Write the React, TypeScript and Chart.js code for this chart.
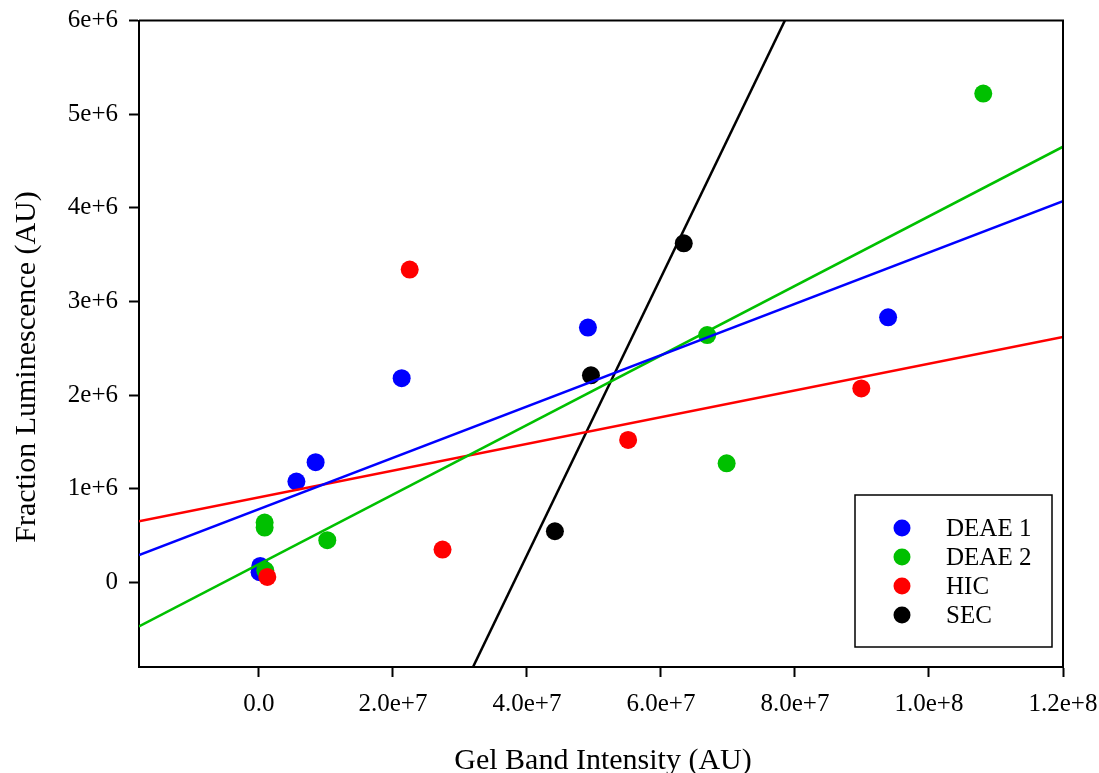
import React, { useEffect, useRef } from "react";
import { Chart, registerables } from "chart.js";

Chart.register(...registerables);

const FONT = "'Liberation Serif', 'Times New Roman', serif";

// Series readings (x: gel band intensity, y: fraction luminescence)
const deae1X = [0.2e6, 0.1e6, 5.59e6, 8.46e6, 21.3e6, 49.1e6, 93.9e6];
const deae1Y = [0.174e6, 0.107e6, 1.076e6, 1.282e6, 2.18e6, 2.72e6, 2.83e6];

const deae2X = [0.85e6, 0.85e6, 0.94e6, 10.2e6, 66.9e6, 69.8e6, 108.1e6];
const deae2Y = [0.638e6, 0.584e6, 0.128e6, 0.449e6, 2.64e6, 1.27e6, 5.22e6];

const hicX = [1.25e6, 22.5e6, 27.4e6, 55.1e6, 89.9e6];
const hicY = [0.057e6, 3.34e6, 0.349e6, 1.52e6, 2.07e6];

const secX = [44.17e6, 49.55e6, 63.4e6];
const secY = [0.545e6, 2.21e6, 3.62e6];

const seriesNames = ["DEAE 1", "DEAE 2", "HIC", "SEC"];
const seriesColors = ["#0000ff", "#00c000", "#ff0000", "#000000"];

// Axis ranges and tick labels
const xRange = [-1.79e7, 1.2e8];
const yRange = [-0.905e6, 6e6];
const xTickValues = [0, 2e7, 4e7, 6e7, 8e7, 1e8, 1.2e8];
const xTickLabels = ["0.0", "2.0e+7", "4.0e+7", "6.0e+7", "8.0e+7", "1.0e+8", "1.2e+8"];
const yTickValues = [0, 1e6, 2e6, 3e6, 4e6, 5e6, 6e6];
const yTickLabels = ["0", "1e+6", "2e+6", "3e+6", "4e+6", "5e+6", "6e+6"];

const xTitle = "Gel Band Intensity (AU)";
const yTitle = "Fraction Luminescence (AU)";

// Ordinary least-squares fit of y on x
function fit(xs: number[], ys: number[]) {
  const n = xs.length;
  const mx = xs.reduce((a, b) => a + b, 0) / n;
  const my = ys.reduce((a, b) => a + b, 0) / n;
  let sxy = 0;
  let sxx = 0;
  for (let i = 0; i < n; i++) {
    sxy += (xs[i] - mx) * (ys[i] - my);
    sxx += (xs[i] - mx) * (xs[i] - mx);
  }
  const slope = sxy / sxx;
  return { slope, intercept: my - slope * mx };
}

const framePlugin = {
  id: "frame",
  afterDatasetsDraw(chart: any) {
    const { ctx, chartArea } = chart;
    ctx.save();
    ctx.strokeStyle = "#000";
    ctx.lineWidth = 2;
    ctx.beginPath();
    ctx.moveTo(chartArea.left, chartArea.top);
    ctx.lineTo(chartArea.right, chartArea.top);
    ctx.lineTo(chartArea.right, chartArea.bottom);
    ctx.stroke();
    ctx.restore();
  },
};

const titlesPlugin = {
  id: "axisTitles",
  afterDraw(chart: any) {
    const { ctx } = chart;
    ctx.save();
    ctx.fillStyle = "#000";
    ctx.font = `30px ${FONT}`;
    ctx.textAlign = "center";
    ctx.textBaseline = "alphabetic";
    ctx.fillText(xTitle, 603, 769);
    ctx.translate(35, 367);
    ctx.rotate(-Math.PI / 2);
    ctx.fillText(yTitle, 0, 0);
    ctx.restore();
  },
};

const legendPlugin = {
  id: "boxLegend",
  afterDraw(chart: any) {
    const { ctx } = chart;
    const left = 855;
    const top = 495;
    const width = 197;
    const height = 152;
    ctx.save();
    ctx.fillStyle = "#fff";
    ctx.fillRect(left, top, width, height);
    ctx.strokeStyle = "#000";
    ctx.lineWidth = 1.5;
    ctx.strokeRect(left, top, width, height);
    ctx.font = `25px ${FONT}`;
    ctx.textBaseline = "middle";
    ctx.textAlign = "left";
    seriesNames.forEach((name, i) => {
      const y = top + 33 + i * 29;
      ctx.fillStyle = seriesColors[i];
      ctx.beginPath();
      ctx.arc(left + 47, y, 8.5, 0, Math.PI * 2);
      ctx.fill();
      ctx.fillStyle = "#000";
      ctx.fillText(name, left + 91, y + 1);
    });
    ctx.restore();
  },
};

export default function App() {
  const canvasRef = useRef<HTMLCanvasElement | null>(null);

  useEffect(() => {
    const canvas = canvasRef.current;
    if (!canvas) return;

    const xs = [deae1X, deae2X, hicX, secX];
    const ys = [deae1Y, deae2Y, hicY, secY];

    const scatterSets = xs.map((xv, i) => ({
      type: "scatter" as const,
      label: seriesNames[i],
      data: xv.map((x, j) => ({ x, y: ys[i][j] })),
      backgroundColor: seriesColors[i],
      borderWidth: 0,
      pointRadius: 9,
      pointHoverRadius: 9,
      order: 4 - i,
    }));

    const lineSets = xs.map((xv, i) => {
      const { slope, intercept } = fit(xv, ys[i]);
      return {
        type: "line" as const,
        label: seriesNames[i] + " fit",
        data: xRange.map((x) => ({ x, y: intercept + slope * x })),
        borderColor: seriesColors[i],
        borderWidth: 2.5,
        pointRadius: 0,
        fill: false,
        order: 0,
      };
    });

    const chart = new Chart(canvas, {
      type: "scatter",
      data: { datasets: [...scatterSets, ...lineSets] as any },
      options: {
        responsive: false,
        animation: false,
        devicePixelRatio: 1,
        layout: { padding: { top: 20.5, right: 36, left: 0, bottom: 0 } },
        plugins: {
          legend: { display: false },
          tooltip: { enabled: false },
        },
        scales: {
          x: {
            type: "linear",
            min: xRange[0],
            max: xRange[1],
            afterBuildTicks: (scale: any) => {
              scale.ticks = xTickValues.map((value) => ({ value }));
            },
            afterFit: (scale: any) => {
              scale.height = 106;
              scale.paddingLeft = 0;
              scale.paddingRight = 0;
            },
            grid: {
              drawOnChartArea: false,
              drawTicks: true,
              tickLength: 10,
              tickWidth: 2,
              tickColor: "#000",
            },
            border: { display: true, color: "#000", width: 2 },
            ticks: {
              color: "#000",
              font: { family: FONT, size: 25 },
              padding: 12,
              maxRotation: 0,
              autoSkip: false,
              callback: (value: any) => {
                const k = xTickValues.indexOf(Number(value));
                return k >= 0 ? xTickLabels[k] : "";
              },
            },
          },
          y: {
            type: "linear",
            min: yRange[0],
            max: yRange[1],
            afterBuildTicks: (scale: any) => {
              scale.ticks = yTickValues.map((value) => ({ value }));
            },
            afterFit: (scale: any) => {
              scale.width = 139;
              scale.paddingTop = 0;
              scale.paddingBottom = 0;
            },
            grid: {
              drawOnChartArea: false,
              drawTicks: true,
              tickLength: 10,
              tickWidth: 2,
              tickColor: "#000",
            },
            border: { display: true, color: "#000", width: 2 },
            ticks: {
              color: "#000",
              font: { family: FONT, size: 25 },
              padding: 11,
              autoSkip: false,
              callback: (value: any) => {
                const k = yTickValues.indexOf(Number(value));
                return k >= 0 ? yTickLabels[k] : "";
              },
            },
          },
        },
      },
      plugins: [framePlugin, titlesPlugin, legendPlugin],
    });

    return () => chart.destroy();
  }, []);

  return (
    <div
      style={{
        position: "fixed",
        left: 0,
        top: 0,
        width: 1099,
        height: 773,
        background: "#fff",
      }}
    >
      <canvas ref={canvasRef} width={1099} height={773} />
    </div>
  );
}
